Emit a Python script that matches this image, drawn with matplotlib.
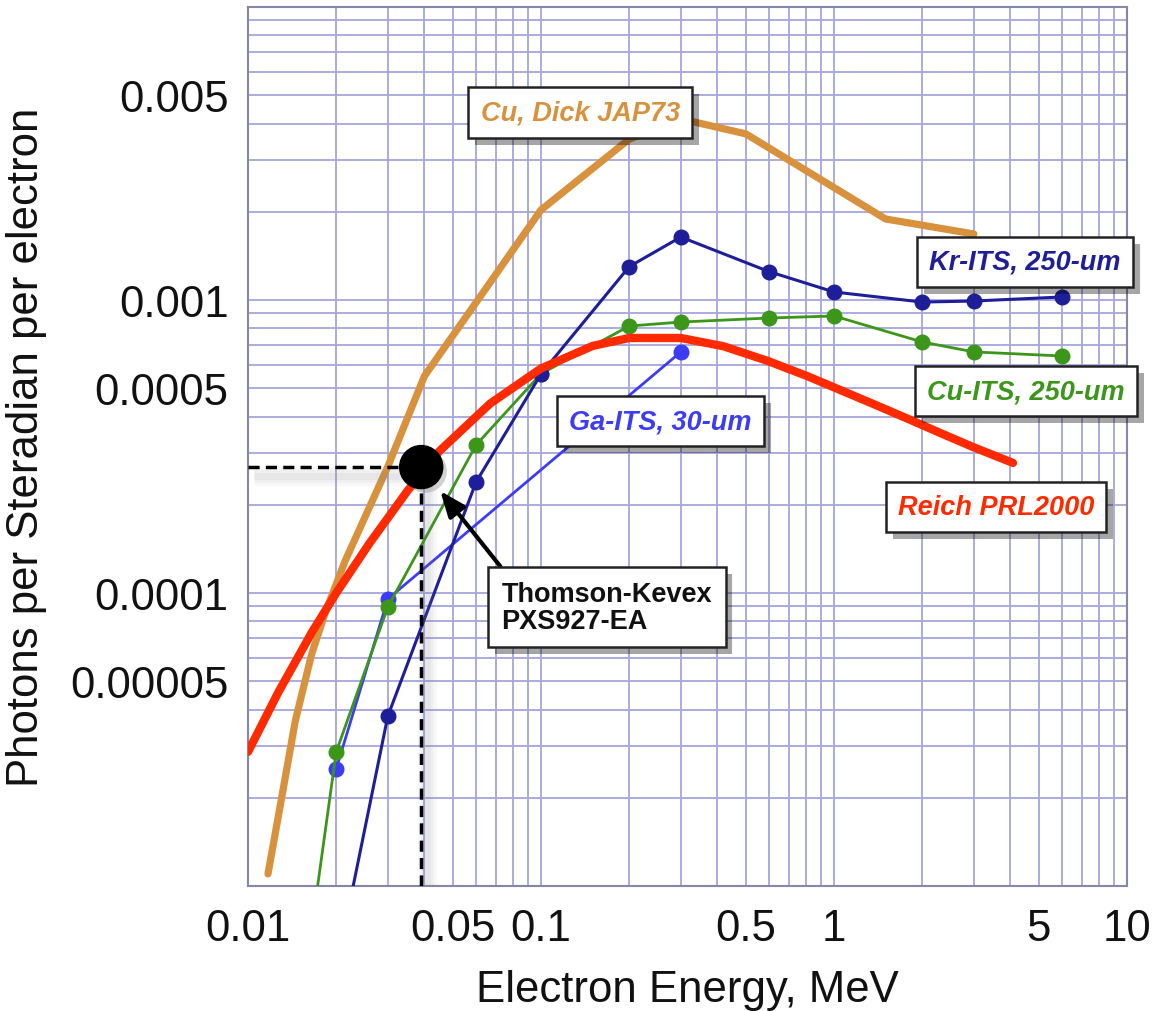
"""
Photons per steradian per electron vs. electron energy
"""
import matplotlib
matplotlib.use('Agg')
import matplotlib.pyplot as plt
import matplotlib.patheffects as pe
import matplotlib.transforms as mtransforms
import numpy as np
from matplotlib.ticker import FixedLocator, FixedFormatter, LogLocator, NullFormatter

plt.rcParams['font.family'] = ['Liberation Sans', 'DejaVu Sans']

# Cu, Dick JAP73
cu_dick_e = [0.0117, 0.013, 0.0145, 0.0165, 0.0183, 0.0214, 0.03, 0.04, 0.1, 0.2, 0.3, 0.5, 1.5, 3.0]
cu_dick_y = [1.1e-5, 1.98e-5, 3.66e-5, 6.2e-5, 8.5e-5, 1.28e-4, 2.7e-4, 5.5e-4,
             2.03e-3, 3.54e-3, 4.15e-3, 3.69e-3, 1.89e-3, 1.68e-3]

# Kr-ITS, 250-um
kr_e = [0.02, 0.03, 0.06, 0.1, 0.2, 0.3, 0.6, 1.0, 2.0, 3.0, 6.0]
kr_y = [5.2e-6, 3.8e-5, 2.39e-4, 5.59e-4, 1.30e-3, 1.64e-3, 1.25e-3, 1.065e-3, 9.84e-4, 9.92e-4, 1.024e-3]

# Cu-ITS, 250-um
cu_its_e = [0.015, 0.02, 0.03, 0.06, 0.1, 0.2, 0.3, 0.6, 1.0, 2.0, 3.0, 6.0]
cu_its_y = [3.6e-6, 2.87e-5, 8.96e-5, 3.2e-4, 5.6e-4, 8.15e-4, 8.41e-4, 8.68e-4, 8.82e-4, 7.19e-4, 6.65e-4, 6.44e-4]

# Ga-ITS, 30-um
ga_e = [0.02, 0.03, 0.3]
ga_y = [2.51e-5, 9.54e-5, 6.65e-4]

# Reich PRL2000
reich_e = [0.01, 0.0127, 0.0165, 0.02, 0.026, 0.035, 0.045, 0.067, 0.1, 0.15, 0.2, 0.3,
           0.42, 0.59, 0.81, 1.05, 1.36, 1.82, 2.3, 2.98, 4.08]
reich_y = [2.87e-5, 4.59e-5, 7.33e-5, 1.0e-4, 1.48e-4, 2.23e-4, 3.05e-4, 4.43e-4, 5.84e-4,
           6.97e-4, 7.42e-4, 7.42e-4, 6.95e-4, 6.21e-4, 5.50e-4, 4.93e-4, 4.42e-4, 3.90e-4,
           3.52e-4, 3.15e-4, 2.78e-4]

# Thomson-Kevex PXS927-EA point
kevex_e = [0.039]
kevex_y = [2.69e-4]

x_ticks = [0.01, 0.05, 0.1, 0.5, 1, 5, 10]
x_labels = ['0.01', '0.05', '0.1', '0.5', '1', '5', '10']
y_ticks = [5e-5, 1e-4, 5e-4, 1e-3, 5e-3]
y_labels = ['0.00005', '0.0001', '0.0005', '0.001', '0.005']

c_orange = '#D8923E'
c_navy = '#1E1E98'
c_green = '#3C9619'
c_blue = '#3C3CF5'
c_red = '#FF2A00'

fig = plt.figure(figsize=(11.6, 10.12), dpi=100)
ax = fig.add_axes([0.2138, 0.1235, 0.7578, 0.8686])
ax.set_xscale('log')
ax.set_yscale('log')
ax.set_xlim(0.01, 10)
ax.set_ylim(1e-5, 1e-2)

ax.xaxis.set_major_locator(FixedLocator(x_ticks))
ax.xaxis.set_major_formatter(FixedFormatter(x_labels))
ax.yaxis.set_major_locator(FixedLocator(y_ticks))
ax.yaxis.set_major_formatter(FixedFormatter(y_labels))
for axis in (ax.xaxis, ax.yaxis):
    axis.set_minor_locator(LogLocator(base=10, subs=np.arange(1, 10), numticks=50))
    axis.set_minor_formatter(NullFormatter())

ax.set_axisbelow(True)
ax.grid(True, which='both', color='#A5A5DC', lw=1.3)
for s in ax.spines.values():
    s.set_color('#8686A8')
    s.set_linewidth(1.5)
ax.tick_params(which='both', length=0, labelsize=31.5, colors='#111111')
ax.tick_params(axis='x', pad=16)
ax.tick_params(axis='y', pad=14)

ax.set_xlabel('Electron Energy, MeV', fontsize=31.5, color='#111111')
ax.set_ylabel('Photons per Steradian per electron', fontsize=31.5, color='#111111')
ax.xaxis.set_label_coords(0.5, -0.094)
ax.yaxis.set_label_coords(-0.229, 0.5)

ax.plot(cu_dick_e, cu_dick_y, color=c_orange, lw=5.2, solid_capstyle='round', zorder=2)
ax.plot(ga_e, ga_y, color=c_blue, lw=2, marker='o', ms=10.5, zorder=3)
ax.plot(cu_its_e, cu_its_y, color=c_green, lw=2, marker='o', ms=10.5, zorder=3.2)
ax.plot(kr_e, kr_y, color=c_navy, lw=2.2, marker='o', ms=10.5, zorder=3.4)
ax.plot(reich_e, reich_y, color=c_red, lw=6, solid_capstyle='round', zorder=4)

# dashed guide lines to the Thomson-Kevex point, with a soft shadow
guide_x = [[0.01, kevex_e[0]], [kevex_e[0], kevex_e[0]]]
guide_y = [[kevex_y[0], kevex_y[0]], [1e-5, kevex_y[0]]]
shadow_tr = mtransforms.offset_copy(ax.transData, fig=fig, x=6, y=-9, units='dots')
for gx, gy in zip(guide_x, guide_y):
    for w, a in ((14, 0.05), (9, 0.07), (5, 0.08)):
        ax.plot(gx, gy, color='gray', lw=w, alpha=a, transform=shadow_tr, zorder=5,
                solid_capstyle='butt')
    ax.plot(gx, gy, color='black', lw=2.5, dashes=(3.2, 1.8), zorder=6)

ax.plot(kevex_e, kevex_y, 'o', color='black', ms=31, zorder=7,
        path_effects=[pe.SimplePatchShadow(offset=(3, -3), shadow_rgbFace='gray', alpha=0.35), pe.Normal()])

box_shadow = [pe.withSimplePatchShadow(offset=(5, -5), shadow_rgbFace='black', alpha=0.35)]


def label(x, y, txt, color):
    t = ax.text(x, y, txt, transform=ax.transAxes, ha='center', va='center',
                fontsize=19.5, fontweight='bold', fontstyle='italic', color=color, zorder=10,
                bbox=dict(boxstyle='square,pad=0.45', fc='white', ec='#222222', lw=1.8))
    t.get_bbox_patch().set_path_effects(box_shadow)
    return t


label(0.378, 0.880, 'Cu, Dick JAP73', c_orange)
label(0.884, 0.710, 'Kr-ITS, 250-um', c_navy)
label(0.885, 0.563, 'Cu-ITS, 250-um', c_green)
label(0.469, 0.529, 'Ga-ITS, 30-um', c_blue)
label(0.851, 0.431, 'Reich PRL2000', c_red)

ann = ax.annotate('Thomson-Kevex\nPXS927-EA', xy=(kevex_e[0], kevex_y[0]), xycoords='data',
                  xytext=(0.408, 0.317), textcoords='axes fraction',
                  ha='center', va='center', multialignment='left', linespacing=1.05,
                  fontsize=19.5, fontweight='bold', color='#111111', zorder=10,
                  bbox=dict(boxstyle='square,pad=0.5', fc='white', ec='#222222', lw=1.8),
                  arrowprops=dict(arrowstyle='-|>,head_length=0.8,head_width=0.32', color='black',
                                  lw=3, shrinkA=0, shrinkB=22, relpos=(0.05, 1.0)))
ann.get_bbox_patch().set_path_effects(box_shadow)

plt.savefig('out.png', dpi=100)
